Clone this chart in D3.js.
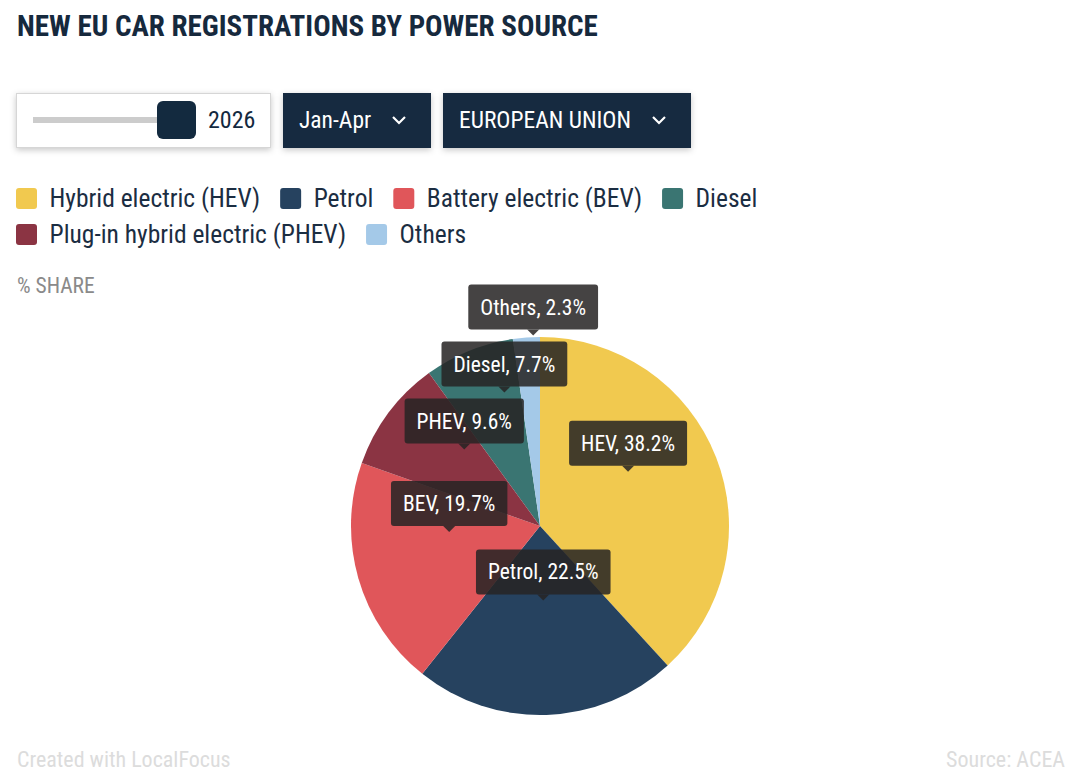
<!DOCTYPE html>
<html>
<head>
<meta charset="utf-8">
<script src="https://cdn.jsdelivr.net/npm/d3@7"></script>
<style>
  html, body { margin: 0; padding: 0; background: #fff; }
  svg { display: block; }
  text { font-family: "Roboto Condensed", Roboto, sans-serif; }
</style>
</head>
<body>
<div id="chart"></div>
<script>
// data
var categories = ['Hybrid electric (HEV)', 'Petrol', 'Battery electric (BEV)', 'Diesel', 'Plug-in hybrid electric (PHEV)', 'Others'];
var shortNames = ['HEV', 'Petrol', 'BEV', 'Diesel', 'PHEV', 'Others'];
var shares = [38.2, 22.5, 19.7, 7.7, 9.6, 2.3];
var colors = ['#f1c94f', '#26425f', '#e0565a', '#3a7572', '#8b3443', '#a4c9e8'];
var yearLabel = '2026';
var periodLabel = 'Jan-Apr';
var regionLabel = 'EUROPEAN UNION';

var width = 1080, height = 784;
var navy = '#13293f';

var svg = d3.select('#chart').append('svg')
  .attr('width', width)
  .attr('height', height);

var defs = svg.append('defs');
var shadow = defs.append('filter').attr('id', 'shadow')
  .attr('x', '-10%').attr('y', '-20%').attr('width', '120%').attr('height', '150%');
shadow.append('feDropShadow')
  .attr('dx', 0).attr('dy', 2).attr('stdDeviation', 3)
  .attr('flood-color', '#000').attr('flood-opacity', 0.22);

// text helper, returns rendered width
function label(parent, x, y, str, opts) {
  opts = opts || {};
  var t = parent.append('text')
    .attr('x', x).attr('y', y)
    .attr('text-anchor', opts.anchor || 'start')
    .attr('dominant-baseline', 'central')
    .attr('font-size', opts.size || 20)
    .attr('font-weight', opts.weight || 400)
    .attr('fill', opts.fill || navy)
    .text(str);
  return t.node().getComputedTextLength();
}

// title
label(svg, 17, 26, 'NEW EU CAR REGISTRATIONS BY POWER SOURCE', { size: 29, weight: 700, fill: '#16293d' });

// controls
var controls = svg.append('g');
controls.append('rect')
  .attr('x', 16.5).attr('y', 93.5).attr('width', 254).attr('height', 54)
  .attr('fill', '#fff').attr('stroke', '#d6d6d6')
  .attr('filter', 'url(#shadow)');
controls.append('rect')
  .attr('x', 33).attr('y', 117).attr('width', 135).attr('height', 6)
  .attr('fill', '#cccccc');
controls.append('rect')
  .attr('x', 157).attr('y', 101).attr('width', 39).attr('height', 38).attr('rx', 6)
  .attr('fill', '#132a3f');
label(controls, 208, 120, yearLabel, { size: 24 });

function dropdown(x, w, str) {
  var g = controls.append('g');
  g.append('rect')
    .attr('x', x).attr('y', 93).attr('width', w).attr('height', 55)
    .attr('fill', '#122a3f').attr('filter', 'url(#shadow)');
  label(g, x + 16, 120, str, { size: 23.5, fill: '#fff' });
  var cx = x + w - 32;
  g.append('path')
    .attr('d', 'M' + (cx - 6) + ',117 L' + cx + ',123 L' + (cx + 6) + ',117')
    .attr('fill', 'none').attr('stroke', '#fff').attr('stroke-width', 2.2);
}
dropdown(283, 148, periodLabel);
dropdown(443, 248, regionLabel);

// legend, wrapping rows
var legend = svg.append('g');
var lx = 16, ly = 198, rowH = 36, maxX = 1064;
var legendSize = 25.5, swatchGap = 33.5, itemGap = 20;
categories.forEach(function (c, i) {
  var item = legend.append('g');
  var w = label(item, lx + swatchGap, ly, c, { size: legendSize, fill: '#1b2d42' });
  if (lx + swatchGap + w > maxX) {
    item.remove();
    lx = 16; ly += rowH;
    item = legend.append('g');
    w = label(item, lx + swatchGap, ly, c, { size: legendSize, fill: '#1b2d42' });
  }
  item.append('rect')
    .attr('x', lx).attr('y', ly - 10).attr('width', 21).attr('height', 21).attr('rx', 3)
    .attr('fill', colors[i]);
  lx += swatchGap + w + itemGap;
});

label(svg, 17, 285, '% SHARE', { size: 21.5, fill: '#8a8a8a' });

// pie
var cx = 540, cy = 526, radius = 189;
var data = categories.map(function (c, i) {
  return { name: c, short: shortNames[i], value: shares[i], color: colors[i] };
});
var pie = d3.pie().value(function (d) { return d.value; }); // default: descending
var arcs = pie(data);
var arc = d3.arc().innerRadius(0).outerRadius(radius);

var pieG = svg.append('g').attr('transform', 'translate(' + cx + ',' + cy + ')');
pieG.selectAll('path')
  .data(arcs)
  .enter()
  .append('path')
  .attr('d', arc)
  .attr('fill', function (d) { return d.data.color; });

// tooltips at the centroid, nudged up when they collide
var tipH = 45, tipGap = 6, arrow = 6;
var tipsG = pieG.append('g');
var tips = arcs.map(function (d) {
  var c = arc.centroid(d);
  return { d: d, x: c[0], y: c[1] - 20, text: d.data.short + ', ' + d.value.toFixed(1) + '%' };
});
tips.forEach(function (t) {
  var g = tipsG.append('g');
  t.g = g;
  g.append('rect').attr('class', 'box');
  g.append('path').attr('class', 'arrow');
  t.w = label(g, 0, 0, t.text, { size: 21.5, fill: '#fff' }) + 24;
});
// place from bottom to top
var placed = [];
tips.slice().sort(function (a, b) { return b.y - a.y; }).forEach(function (t) {
  var moved = true;
  while (moved) {
    moved = false;
    placed.forEach(function (p) {
      var top = t.y - arrow - tipH, bottom = t.y;
      var ptop = p.y - arrow - tipH;
      var xOverlap = Math.abs(t.x - p.x) < (t.w + p.w) / 2;
      if (xOverlap && bottom > ptop && top < p.y) {
        t.y = ptop - tipGap;
        moved = true;
      }
    });
  }
  placed.push(t);
});
tips.forEach(function (t) {
  var g = t.g;
  var by = t.y - arrow - tipH;
  g.select('rect.box')
    .attr('x', t.x - t.w / 2).attr('y', by).attr('width', t.w).attr('height', tipH).attr('rx', 3)
    .attr('fill', 'rgba(38,36,36,0.86)');
  g.select('path.arrow')
    .attr('d', 'M' + (t.x - 6) + ',' + (t.y - arrow) + ' L' + t.x + ',' + t.y + ' L' + (t.x + 6) + ',' + (t.y - arrow) + 'Z')
    .attr('fill', 'rgba(38,36,36,0.86)');
  g.select('text')
    .attr('x', t.x).attr('y', by + tipH / 2)
    .attr('text-anchor', 'middle');
});

// footer
label(svg, 17, 759, 'Created with LocalFocus', { size: 22, fill: '#dcdcdc' });
label(svg, 1065, 759, 'Source:  ACEA', { size: 22, fill: '#dcdcdc', anchor: 'end' });
</script>
</body>
</html>
